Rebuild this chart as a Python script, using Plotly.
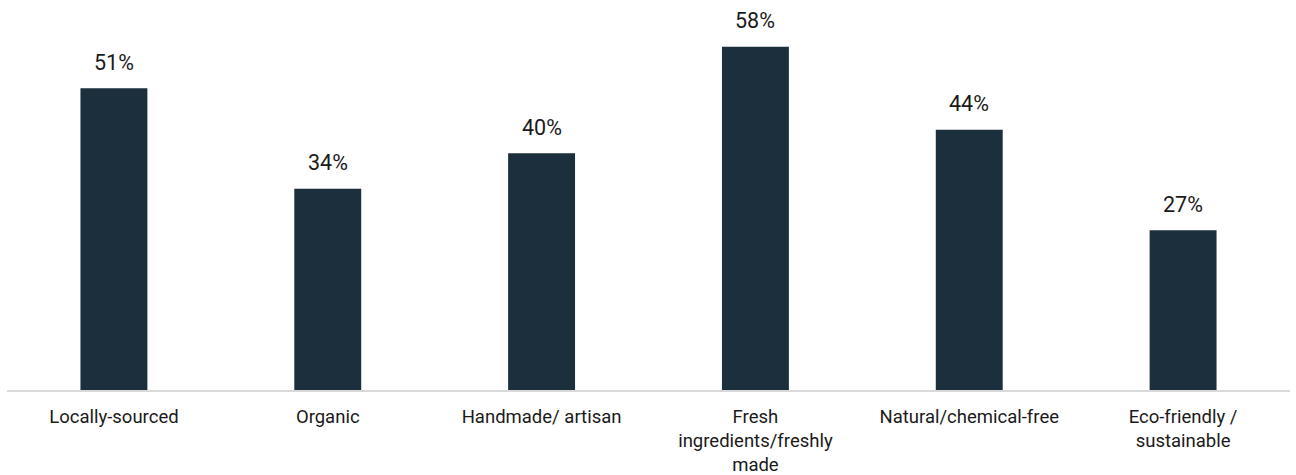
import plotly.graph_objects as go

categories = ["Locally-sourced", "Organic", "Handmade/ artisan",
              "Fresh<br>ingredients/freshly<br>made", "Natural/chemical-free",
              "Eco-friendly /<br>sustainable"]
values = [51, 34, 40, 58, 44, 27]
labels = [f"{v}%" for v in values]

fig = go.Figure(go.Bar(
    x=categories, y=values,
    marker=dict(color="#1b2f3d", line=dict(width=0)),
    hoverinfo="skip",
))
for c, v, t in zip(categories, values, labels):
    fig.add_annotation(x=c, y=v, text=t, showarrow=False, yanchor="middle",
                       yshift=26, font=dict(family="Roboto", size=21.5, color="#1a1a1a"))
fig.update_layout(
    width=1296, height=475,
    margin=dict(l=7, r=6, t=35, b=85),
    plot_bgcolor="white", paper_bgcolor="white",
    bargap=0.687, showlegend=False,
    font=dict(family="Roboto", size=18.5, color="#1a1a1a"),
)
fig.update_xaxes(showline=True, linecolor="#d9d9d9", linewidth=2,
                 ticks="", tickfont=dict(size=18.5, color="#1a1a1a"),
                 ticklabelstandoff=9, automargin=False)
fig.update_yaxes(range=[0, 60], visible=False, showgrid=False)
fig.write_html("out.html")
